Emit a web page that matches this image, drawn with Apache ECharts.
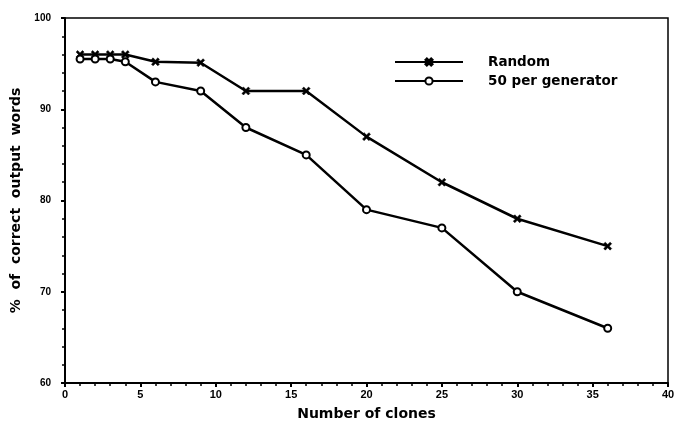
<!DOCTYPE html>
<html><head><meta charset="utf-8">
<script src="https://cdn.jsdelivr.net/npm/echarts@6/dist/echarts.min.js"></script>
<style>html,body{margin:0;padding:0;background:#fff}#c{width:679px;height:435px}</style>
</head><body><div id="c"></div>
<script>
const clones = [1, 2, 3, 4, 6, 9, 12, 16, 20, 25, 30, 36];
const randomVals = [96, 96, 96, 96, 95.2, 95.1, 92, 92, 87, 82, 78, 75];
const perGenVals = [95.5, 95.5, 95.5, 95.2, 93, 92, 88, 85, 79, 77, 70, 66];
const seriesNames = ['Random', '50 per generator'];
const xTitle = 'Number of clones';
const yTitle = '%  of  correct  output  words';

const font = '"Liberation Sans", Arial, sans-serif';
const wide = '"DejaVu Sans", sans-serif';
const chart = echarts.init(document.getElementById('c'));
const pair = (xs, ys) => xs.map((x, i) => [x, ys[i]]);
const cross = 'path://M0,2L2,0L5,3L8,0L10,2L7,5L10,8L8,10L5,7L2,10L0,8L3,5Z';
chart.setOption({
  animation: false,
  backgroundColor: '#fff',
  grid: { left: 65, right: 11, top: 18, bottom: 52, show: true, borderColor: '#000', borderWidth: 1.5 },
  legend: {
    orient: 'vertical', left: 389, top: 50, itemWidth: 68, itemHeight: 9, itemGap: 5,
    textStyle: { fontFamily: wide, fontSize: 13.5, fontWeight: 'bold', color: '#000', padding: [0, 0, 0, 20] },
    data: seriesNames
  },
  xAxis: {
    type: 'value', min: 0, max: 40, interval: 5,
    name: xTitle, nameLocation: 'middle', nameGap: 24,
    nameTextStyle: { fontFamily: wide, fontSize: 14, color: '#000', fontWeight: 'bold' },
    axisLine: { lineStyle: { color: '#000', width: 2 } },
    axisTick: { length: 4, lineStyle: { color: '#000', width: 2 } },
    minorTick: { show: true, splitNumber: 5, length: 3, lineStyle: { color: '#000', width: 1.5 } },
    splitLine: { show: false },
    axisLabel: { fontFamily: font, fontSize: 11, fontWeight: 'bold', color: '#000', margin: 6 }
  },
  yAxis: {
    type: 'value', min: 60, max: 100, interval: 10,
    name: yTitle, nameLocation: 'middle', nameGap: 38, nameRotate: 90,
    nameTextStyle: { fontFamily: wide, fontSize: 14, color: '#000', fontWeight: 'bold' },
    axisLine: { show: true, lineStyle: { color: '#000', width: 2 } },
    axisTick: { show: true, length: 4, lineStyle: { color: '#000', width: 2 } },
    minorTick: { show: true, splitNumber: 5, length: 3, lineStyle: { color: '#000', width: 1.5 } },
    splitLine: { show: false },
    axisLabel: { fontFamily: font, fontSize: 10, fontWeight: 'bold', color: '#000', margin: 14 }
  },
  series: [
    {
      name: seriesNames[0], type: 'line', data: pair(clones, randomVals),
      symbol: cross, symbolSize: 8,
      lineStyle: { color: '#000', width: 2.5 },
      itemStyle: { color: '#000', borderColor: '#000', borderWidth: 0.5 }
    },
    {
      name: seriesNames[1], type: 'line', data: pair(clones, perGenVals),
      symbol: 'emptyCircle', symbolSize: 7,
      lineStyle: { color: '#000', width: 2.5 },
      itemStyle: { color: '#000', borderColor: '#000', borderWidth: 2 }
    }
  ]
});
</script></body></html>
